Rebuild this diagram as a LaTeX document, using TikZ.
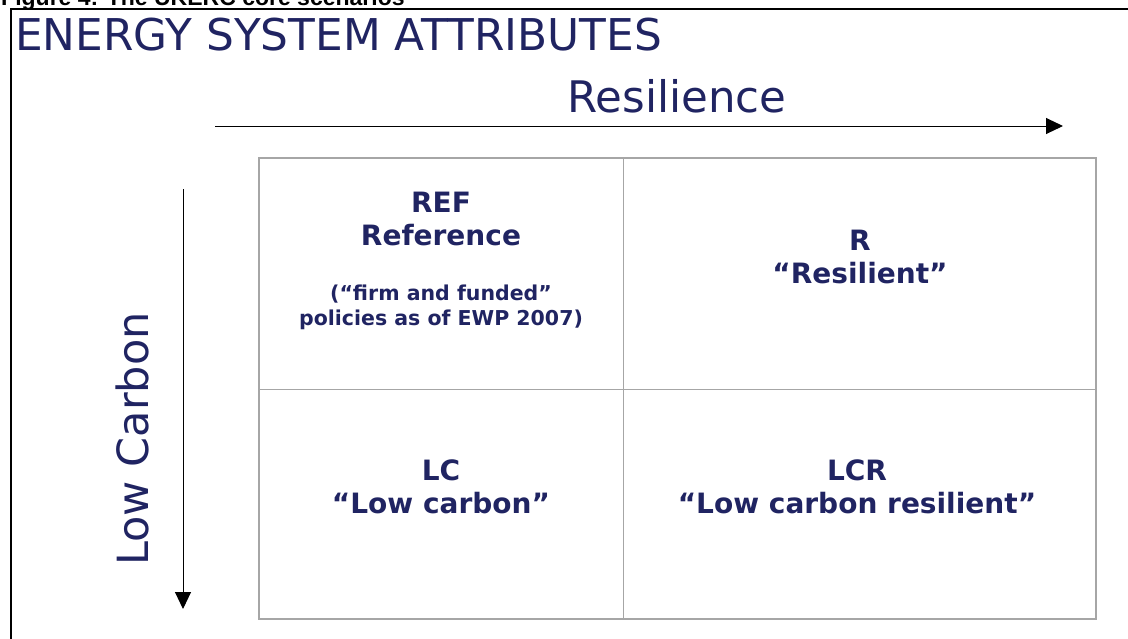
\documentclass[tikz,border=0pt]{standalone}
\usepackage{fontspec}
\setmainfont{DejaVu Sans}
\newfontfamily\capfont{Liberation Sans}
\usetikzlibrary{arrows.meta}
\definecolor{ewpnavy}{RGB}{32,36,98}
\definecolor{ewpgrey}{RGB}{166,166,166}

\begin{document}
\begin{tikzpicture}[x=1pt,y=-1pt,
    axis/.style={line width=1pt,-{Triangle[length=17pt,width=16pt]}},
    gridline/.style={draw=ewpgrey,line width=1pt},
    heading/.style={text=ewpnavy,inner sep=0pt,anchor=base},
    cell/.style={heading,align=center,font=\bfseries\fontsize{28}{33}\selectfont},
    note/.style={heading,align=center,font=\bfseries\fontsize{20.5}{25}\selectfont}]
  \useasboundingbox[fill=white] (0,0) rectangle (1128,638);
  \node[anchor=base west,inner sep=0pt,font=\capfont\bfseries\fontsize{23}{27}\selectfont] (cap) at (1,5)
    {Figure 4: The UKERC core scenarios};
  \draw[line width=1.2pt] (1140,9) -| (11,650);
  \node[heading,anchor=base west,font=\fontsize{43.8}{52}\selectfont] (title) at (15,50)
    {ENERGY SYSTEM ATTRIBUTES};
  \node[heading,font=\fontsize{43.5}{52}\selectfont] (resil) at (677,112)
    {Resilience};
  \node[heading,rotate=90,font=\fontsize{43}{52}\selectfont] (lowc) at (148,439)
    {Low Carbon};
  \coordinate (resS) at (215,126); \coordinate (resE) at (1063,126);
  \coordinate (lowS) at (183,189); \coordinate (lowE) at (183,609);
  \draw[axis] (resS) -- (resE);
  \draw[axis] (lowS) -- (lowE);
  \draw[gridline,line width=2pt] (259,158) rectangle (1096,619);
  \draw[gridline] (623,158) -- (623,619);
  \draw[gridline] (259,389) -- (1096,389);
  \node[cell] (ref) at (441,245)
    {REF\\Reference};
  \node[note] (refnote) at (441,325)
    {(“firm and funded”\\policies as of EWP 2007)};
  \node[cell] (res) at (860,283)
    {R\\“Resilient”};
  \node[cell] (lc) at (441,513)
    {LC\\“Low carbon”};
  \node[cell] (lcr) at (857,513)
    {LCR\\“Low carbon resilient”};
\end{tikzpicture}
\end{document}
